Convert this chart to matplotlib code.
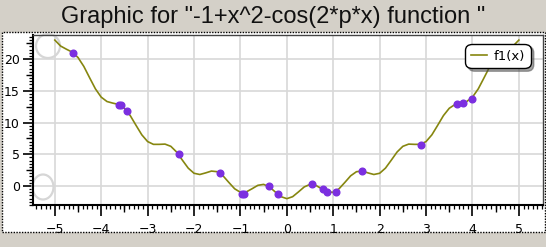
"""
Plot of f1(x) = -1 + x^2 - cos(2*pi*x) with a few marked points,
styled after an old desktop chart control.
"""
import numpy as np
import matplotlib
matplotlib.use("Agg")
import matplotlib.pyplot as plt
from matplotlib.patches import Rectangle, Ellipse
from matplotlib.ticker import MultipleLocator

# curve values, x from -5 to 5 in steps of 0.125
curve_x = np.arange(-40, 41) / 8
curve_y = [23.0, 22.06, 21.56, 21.10, 20.25, 18.85, 17.06, 15.31,
           14.0, 13.31, 13.06, 12.85, 12.25, 11.10, 9.56, 8.06,
           7.0, 6.56, 6.56, 6.60, 6.25, 5.35, 4.06, 2.81,
           2.0, 1.81, 2.06, 2.35, 2.25, 1.60, 0.56, -0.44,
           -1.0, -0.94, -0.44, 0.10, 0.25, -0.15, -0.94, -1.69,
           -2.0,
           -1.69, -0.94, -0.15, 0.25, 0.10, -0.44, -0.94, -1.0,
           -0.44, 0.56, 1.60, 2.25, 2.35, 2.06, 1.81, 2.0,
           2.81, 4.06, 5.35, 6.25, 6.60, 6.56, 6.56, 7.0,
           8.06, 9.56, 11.10, 12.25, 12.85, 13.06, 13.31, 14.0,
           15.31, 17.06, 18.85, 20.25, 21.10, 21.56, 22.06, 23.0]

# marked points
pts_x = [-4.61, -3.61, -3.57, -3.45, -2.33, -1.43, -0.96, -0.92,
         -0.39, -0.19, 0.54, 0.77, 0.87, 1.06, 1.62, 2.89, 3.67, 3.79, 3.98]
pts_y = [21.0, 12.75, 12.7, 11.85, 5.0, 2.0, -1.2, -1.25,
         0.0, -1.3, 0.3, -0.45, -0.9, -0.9, 2.4, 6.5, 12.95, 13.1, 13.7]

x_major = [-5, -4, -3, -2, -1, 0, 1, 2, 3, 4, 5]
y_major = [0, 5, 10, 15, 20]

W, H = 546, 247
fig = plt.figure(figsize=(W / 100, H / 100), dpi=100)
fig.patch.set_facecolor('#d4d0c8')

# white chart frame with dotted border
fig.patches.append(Rectangle((2 / W, 1 - 232 / H), 543 / W, 200 / H,
                             transform=fig.transFigure, facecolor='white',
                             edgecolor='black', linewidth=1.0,
                             linestyle=(0, (1, 1)), zorder=-1))

fig.text(0.5, 1 - 17 / H, 'Graphic for "-1+x^2-cos(2*p*x) function "',
         ha='center', va='center', fontsize=17, family='Liberation Sans',
         color='#111111')

ax = fig.add_axes([33 / W, 1 - 205 / H, 510 / W, 170 / H])
ax.set_zorder(1)
ax.set_facecolor('white')
ax.set_xlim(-5.47, 5.52)
ax.set_ylim(-3.0, 23.8)

ax.plot(curve_x, curve_y, color='#86860f', linewidth=1.2, label='f1(x)',
        zorder=3)
ax.plot(pts_x, pts_y, 'o', color='#7b2fe0', markersize=4.8, zorder=4)

ax.set_xticks(x_major)
ax.set_yticks(y_major)
ax.xaxis.set_minor_locator(MultipleLocator(0.1))
ax.yaxis.set_minor_locator(MultipleLocator(0.5))
ax.grid(True, which='major', color='#d8d8d8', linewidth=1.2, zorder=0)
ax.set_axisbelow(True)

ax.tick_params(axis='x', which='major', direction='out', length=8,
               width=1.2, pad=5, labelsize=9)
ax.tick_params(axis='y', which='major', direction='out', length=7.5,
               width=1.2, pad=2, labelsize=9)
ax.tick_params(which='minor', direction='out', length=3, width=0.9)

# medium ticks at the half steps
sx = ax.secondary_xaxis('bottom')
sx.set_xticks([v + 0.5 for v in x_major[:-1]])
sx.set_xticklabels([])
sx.tick_params(direction='out', length=5, width=1.0)
sx.spines['bottom'].set_visible(False)
sy = ax.secondary_yaxis('left')
sy.set_yticks([v + 2.5 for v in y_major])
sy.set_yticklabels([])
sy.tick_params(direction='out', length=5, width=1.0)
sy.spines['left'].set_visible(False)

for side in ('left', 'bottom'):
    ax.spines[side].set_linewidth(1.5)
    ax.spines[side].set_color('black')
for side in ('top', 'right'):
    ax.spines[side].set_linewidth(1.0)
    ax.spines[side].set_color('#444444')

# faint round buttons in the corners of the plot area
for cx, cy, rw, rh in [(48, 46, 24, 24), (43, 187, 21, 25)]:
    ax.add_patch(Ellipse((cx / W, 1 - cy / H), rw / W, rh / H,
                         transform=fig.transFigure, fill=False,
                         edgecolor='#d6d6d6', linewidth=1.6, zorder=2,
                         clip_on=False))

leg = ax.legend(loc='upper right', bbox_to_anchor=(0.97, 0.93),
                borderaxespad=0, fontsize=9.5, fancybox=True, shadow=True,
                framealpha=1, edgecolor='black', handlelength=1.2,
                handletextpad=0.5, borderpad=0.2)
leg.get_frame().set_linewidth(1.0)
leg.get_frame().set_boxstyle('round', pad=0.25, rounding_size=0.5)

fig.savefig('out.png', dpi=100, facecolor=fig.get_facecolor())
